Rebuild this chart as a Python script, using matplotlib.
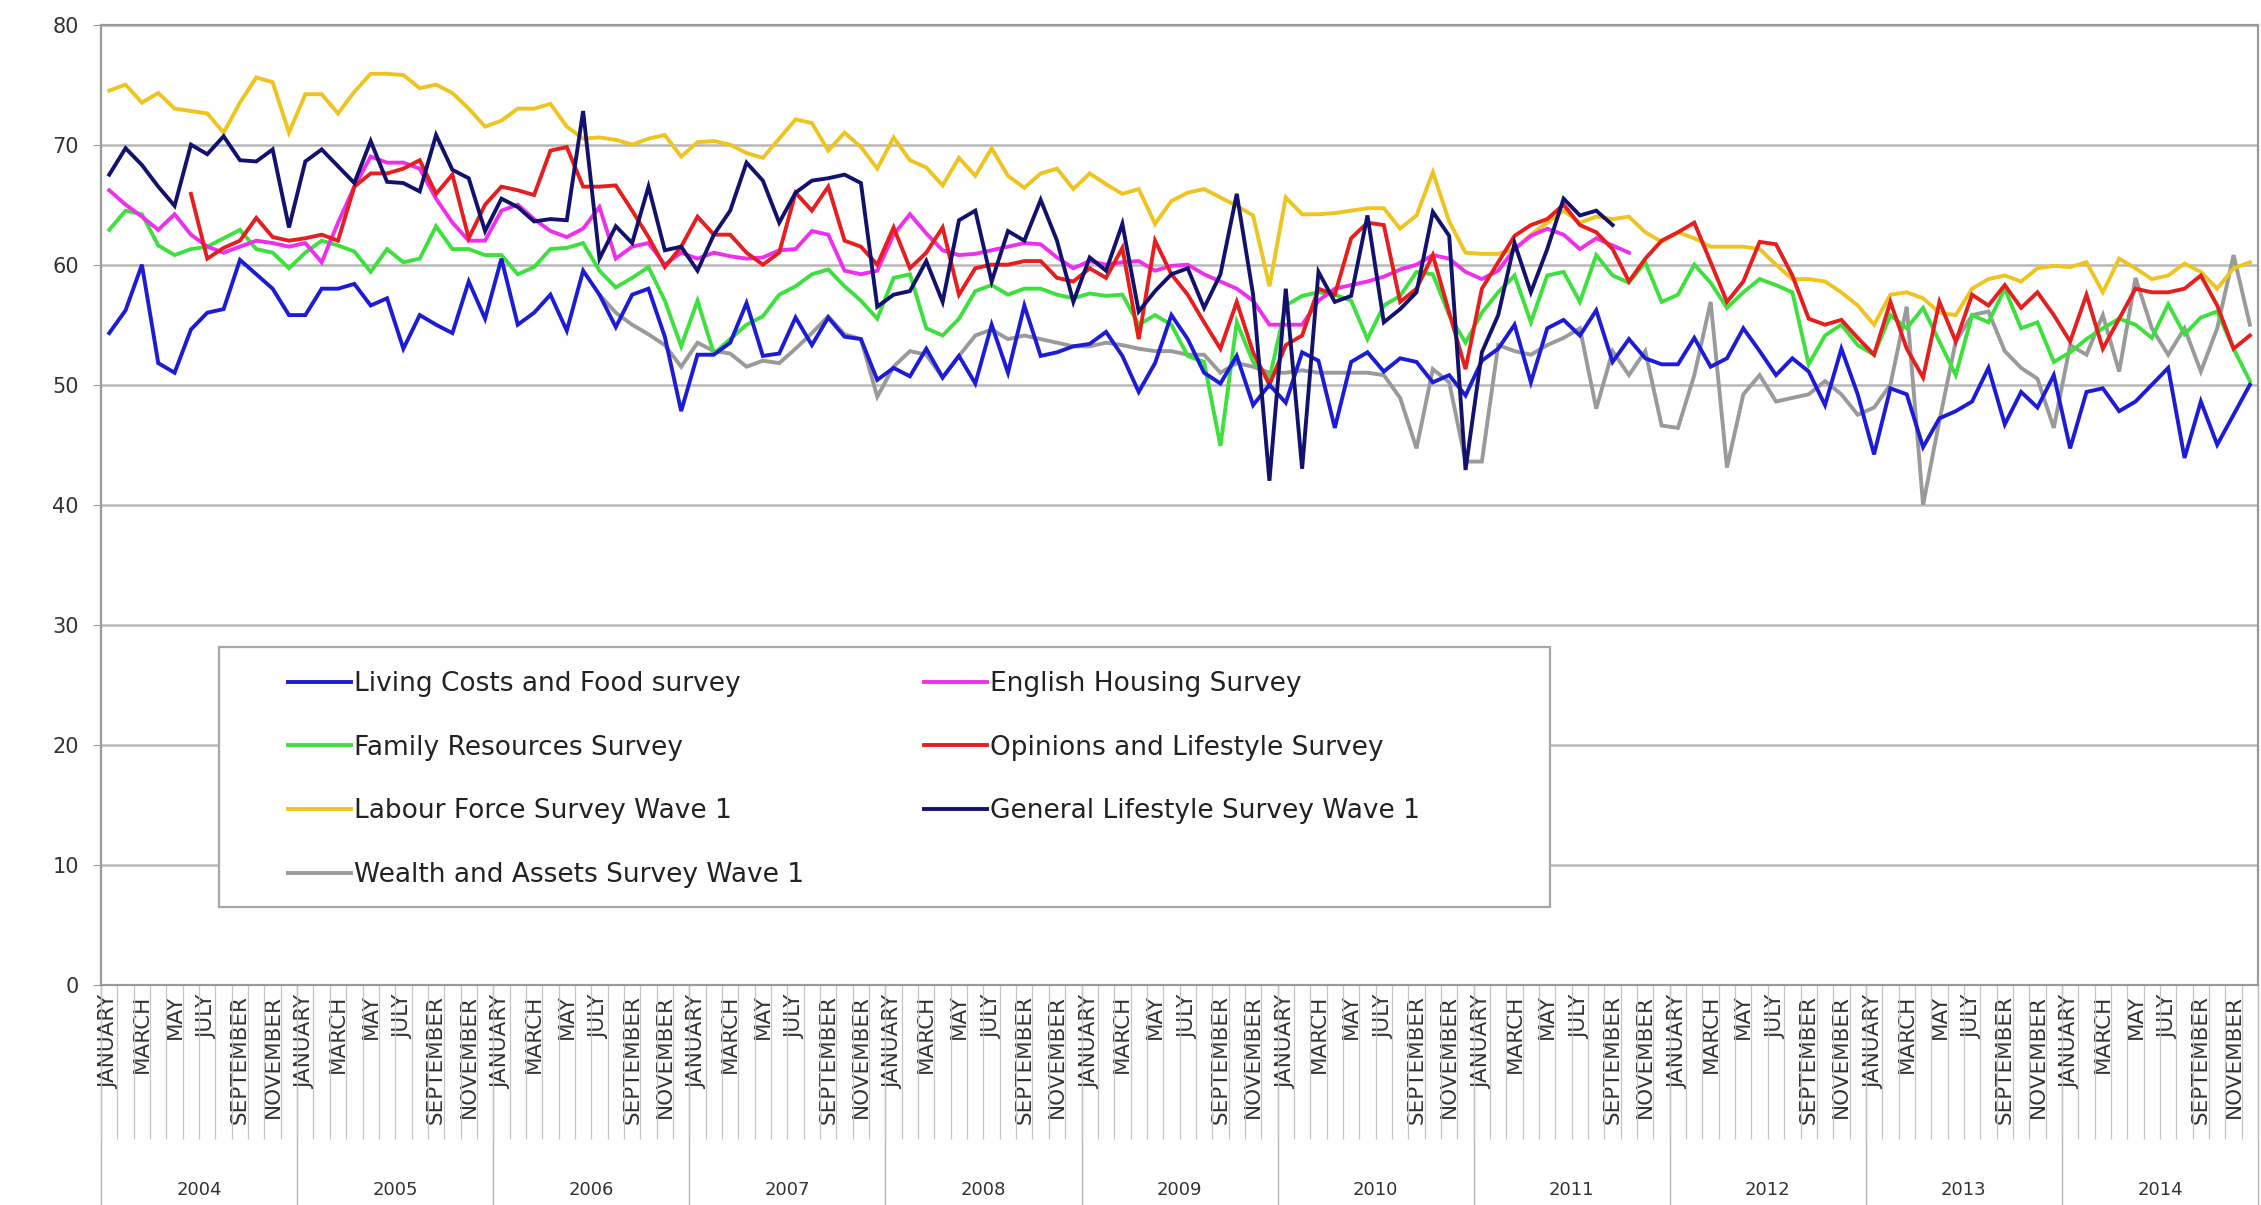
import numpy as np
import matplotlib.pyplot as plt
from matplotlib.patches import Rectangle

nan = np.nan

# category axis: one point per month, Jan 2004 - Dec 2014
month_names = ['JANUARY', 'FEBRUARY', 'MARCH', 'APRIL', 'MAY', 'JUNE', 'JULY',
               'AUGUST', 'SEPTEMBER', 'OCTOBER', 'NOVEMBER', 'DECEMBER']
years = [str(y) for y in range(2004, 2015)]

living_costs = [
    54.3, 56.2, 60.0, 51.8, 51.0, 54.6, 56.0, 56.3, 60.4, 59.2, 58.0, 55.8,
    55.8, 58.0, 58.0, 58.4, 56.6, 57.2, 53.0, 55.8, 55.0, 54.3, 58.6, 55.5,
    60.5, 55.0, 56.0, 57.5, 54.5, 59.5, 57.5, 54.8, 57.5, 58.0, 54.0, 47.8,
    52.5, 52.5, 53.5, 56.8, 52.4, 52.6, 55.6, 53.3, 55.6, 54.0, 53.8, 50.4,
    51.4, 50.7, 53.0, 50.6, 52.4, 50.1, 55.0, 51.0, 56.6, 52.4, 52.7, 53.2,
    53.4, 54.4, 52.4, 49.4, 51.8, 55.8, 53.8, 51.0, 50.1, 52.4, 48.3, 50.0,
    48.5, 52.7, 52.0, 46.4, 51.9, 52.7, 51.1, 52.2, 51.9, 50.2, 50.8, 49.1,
    52.0, 53.0, 55.0, 50.2, 54.7, 55.4, 54.1, 56.2, 51.9, 53.8, 52.2, 51.7,
    51.7, 53.9, 51.5, 52.2, 54.7, 52.8, 50.8, 52.2, 51.1, 48.3, 53.0, 49.2,
    44.2, 49.7, 49.2, 44.8, 47.2, 47.8, 48.6, 51.4, 46.7, 49.4, 48.1, 50.8,
    44.7, 49.4, 49.7, 47.8, 48.6, 50.0, 51.4, 43.9, 48.6, 45.0, 47.5, 50.0,
]

english_housing = [
    66.2, 65.0, 64.0, 62.9, 64.2, 62.5, 61.5, 61.0, 61.5, 62.0, 61.8, 61.5,
    61.8, 60.2, 63.5, 66.5, 69.0, 68.5, 68.5, 68.0, 65.5, 63.5, 62.0, 62.0,
    64.5, 65.0, 63.8, 62.8, 62.3, 63.0, 64.8, 60.5, 61.5, 61.8, 60.0, 61.0,
    60.5, 61.0, 60.7, 60.5, 60.6, 61.2, 61.3, 62.8, 62.5, 59.5, 59.2, 59.5,
    62.5, 64.2, 62.6, 61.2, 60.8, 60.9, 61.2, 61.5, 61.8, 61.7, 60.6, 59.7,
    60.3, 60.0, 60.2, 60.3, 59.5, 59.9, 60.0, 59.2, 58.6, 58.0, 57.0, 55.0,
    55.0, 55.0, 57.0, 58.0, 58.3, 58.6, 59.0, 59.6, 60.0, 60.8, 60.5, 59.4,
    58.8, 59.5, 61.3, 62.4, 63.0, 62.5, 61.3, 62.2, 61.6, 61.0, nan, nan,
] + [nan] * 36

family_resources = [
    62.9, 64.5, 64.2, 61.6, 60.8, 61.3, 61.5, 62.2, 62.9, 61.3, 61.0, 59.7,
    61.0, 62.0, 61.6, 61.1, 59.4, 61.3, 60.2, 60.5, 63.2, 61.3, 61.3, 60.8,
    60.8, 59.2, 59.8, 61.3, 61.4, 61.8, 59.5, 58.1, 58.9, 59.8, 57.0, 53.2,
    57.0, 52.6, 53.8, 55.0, 55.7, 57.5, 58.2, 59.2, 59.6, 58.2, 57.0, 55.5,
    58.9, 59.2, 54.7, 54.1, 55.5, 57.8, 58.3, 57.5, 58.0, 58.0, 57.5, 57.2,
    57.6, 57.4, 57.5, 55.0, 55.8, 55.0, 52.4, 51.9, 44.9, 55.2, 51.9, 50.5,
    56.6, 57.4, 57.7, 57.5, 57.0, 53.8, 56.6, 57.4, 59.4, 59.2, 55.8, 53.5,
    56.0, 57.7, 59.1, 55.2, 59.1, 59.4, 56.9, 60.8, 59.1, 58.5, 60.2, 56.9,
    57.5, 60.0, 58.5, 56.4, 57.7, 58.8, 58.3, 57.7, 51.7, 54.1, 55.0, 53.3,
    52.5, 55.8, 54.7, 56.4, 53.6, 50.8, 55.8, 55.2, 58.0, 54.7, 55.2, 51.9,
    52.7, 53.8, 54.7, 55.5, 55.0, 53.9, 56.7, 54.2, 55.6, 56.1, 53.0, 50.3,
]

opinions_lifestyle = [
    nan, nan, nan, nan, nan, 65.9, 60.5, 61.4, 62.0, 63.9, 62.3, 62.0,
    62.2, 62.5, 62.0, 66.5, 67.6, 67.6, 68.0, 68.7, 65.9, 67.5, 62.2, 65.0,
    66.5, 66.2, 65.8, 69.5, 69.8, 66.5, 66.5, 66.6, 64.5, 62.3, 59.8, 61.5,
    64.0, 62.5, 62.5, 61.0, 60.0, 61.0, 66.0, 64.5, 66.5, 62.0, 61.5, 60.0,
    63.1, 59.7, 61.0, 63.1, 57.5, 59.7, 60.0, 60.0, 60.3, 60.3, 58.9, 58.6,
    59.7, 58.9, 61.4, 53.8, 62.0, 59.2, 57.5, 55.2, 53.0, 56.9, 52.7, 50.0,
    53.3, 54.1, 58.0, 57.5, 62.2, 63.5, 63.3, 56.9, 58.0, 60.8, 56.0, 51.3,
    58.0, 60.2, 62.4, 63.3, 63.8, 65.0, 63.3, 62.7, 61.3, 58.6, 60.5, 62.0,
    62.7, 63.5, 60.2, 56.9, 58.6, 61.9, 61.7, 59.1, 55.5, 55.0, 55.4, 53.9,
    52.5, 56.9, 53.0, 50.6, 56.9, 53.6, 57.5, 56.6, 58.3, 56.4, 57.7, 55.8,
    53.6, 57.5, 53.0, 55.5, 58.0, 57.7, 57.7, 58.0, 59.1, 56.6, 53.0, 54.1,
]

labour_force = [
    74.5, 75.0, 73.5, 74.3, 73.0, 72.8, 72.6, 71.0, 73.5, 75.6, 75.2, 71.0,
    74.2, 74.2, 72.6, 74.4, 75.9, 75.9, 75.8, 74.7, 75.0, 74.3, 73.0, 71.5,
    72.0, 73.0, 73.0, 73.4, 71.5, 70.5, 70.6, 70.4, 70.0, 70.5, 70.8, 69.0,
    70.2, 70.3, 70.0, 69.3, 68.9, 70.5, 72.1, 71.8, 69.5, 71.0, 69.8, 68.0,
    70.6, 68.7, 68.1, 66.6, 68.9, 67.4, 69.7, 67.4, 66.4, 67.6, 68.0, 66.3,
    67.6, 66.7, 65.9, 66.3, 63.4, 65.3, 66.0, 66.3, 65.6, 64.9, 64.1, 58.2,
    65.6, 64.2, 64.2, 64.3, 64.5, 64.7, 64.7, 63.0, 64.1, 67.7, 63.6, 61.0,
    60.9, 60.9, 61.3, 62.5, 63.5, 64.5, 63.5, 64.0, 63.8, 64.0, 62.7, 61.9,
    62.7, 62.2, 61.5, 61.5, 61.5, 61.3, 60.0, 58.8, 58.8, 58.6, 57.7, 56.6,
    55.0, 57.5, 57.7, 57.2, 56.0, 55.8, 58.0, 58.8, 59.1, 58.6, 59.7, 59.9,
    59.8, 60.2, 57.7, 60.5, 59.7, 58.8, 59.1, 60.1, 59.4, 58.0, 59.7, 60.2,
]

general_lifestyle = [
    67.5, 69.7, 68.3, 66.5, 64.9, 70.0, 69.2, 70.7, 68.7, 68.6, 69.6, 63.1,
    68.6, 69.6, 68.2, 66.8, 70.3, 66.9, 66.8, 66.1, 70.8, 67.9, 67.2, 62.8,
    65.5, 64.8, 63.6, 63.8, 63.7, 72.8, 60.5, 63.2, 61.8, 66.5, 61.2, 61.5,
    59.5, 62.5, 64.5, 68.5, 67.0, 63.5, 66.0, 67.0, 67.2, 67.5, 66.8, 56.5,
    57.5, 57.8, 60.3, 56.9, 63.7, 64.5, 58.6, 62.8, 62.0, 65.4, 62.0, 56.9,
    60.6, 59.5, 63.4, 56.1, 57.8, 59.2, 59.7, 56.4, 59.2, 65.9, 57.5, 42.0,
    58.0, 43.0, 59.4, 56.9, 57.4, 64.1, 55.2, 56.3, 57.7, 64.4, 62.4, 42.9,
    52.7, 55.8, 61.8, 57.7, 61.3, 65.5, 64.1, 64.5, 63.3, nan, nan, nan,
] + [nan] * 36

wealth_assets = [nan] * 24 + [
    nan, nan, nan, nan, nan, nan, 57.5, 56.0, 55.0, 54.2, 53.3, 51.5,
    53.5, 52.8, 52.6, 51.5, 52.0, 51.8, 53.0, 54.3, 55.7, 54.2, 53.8, 49.0,
    51.5, 52.8, 52.5, 50.6, 52.4, 54.1, 54.6, 53.8, 54.1, 53.8, 53.5, 53.2,
    53.2, 53.5, 53.3, 53.0, 52.8, 52.8, 52.5, 52.5, 51.0, 51.8, 51.5, 51.0,
    51.0, 51.2, 51.0, 51.0, 51.0, 51.0, 50.8, 48.9, 44.7, 51.3, 50.2, 43.6,
    43.6, 53.3, 52.8, 52.5, 53.3, 53.9, 54.7, 48.0, 52.8, 50.8, 52.8, 46.6,
    46.4, 50.8, 56.9, 43.1, 49.2, 50.8, 48.6, 48.9, 49.2, 50.3, 49.2, 47.5,
    48.1, 50.0, 56.5, 40.0, 47.0, 53.6, 55.8, 56.1, 52.8, 51.4, 50.5, 46.4,
    53.3, 52.5, 55.8, 51.1, 58.9, 54.7, 52.5, 54.7, 51.1, 54.7, 60.8, 55.0,
]

series_names = ['Living Costs and Food survey', 'English Housing Survey',
                'Family Resources Survey', 'Opinions and Lifestyle Survey',
                'Labour Force Survey Wave 1', 'General Lifestyle Survey Wave 1',
                'Wealth and Assets Survey Wave 1']
series_values = [living_costs, english_housing, family_resources,
                 opinions_lifestyle, labour_force, general_lifestyle,
                 wealth_assets]
series_colors = ['#1c1cd8', '#ee30ee', '#3ee03e', '#e61e1e',
                 '#f0c420', '#12126e', '#9a9a9a']

n_months = len(living_costs)
x = np.arange(n_months)

fig = plt.figure(figsize=(22.61, 12.05), dpi=100)
ax = fig.add_axes([0.0447, 0.1826, 0.954, 0.797])

# gray first so it sits underneath the others
draw_order = [6, 4, 2, 1, 3, 0, 5]
lines = {}
for k in draw_order:
    (ln,) = ax.plot(x, series_values[k], color=series_colors[k], lw=2.8,
                    label=series_names[k], solid_joinstyle='miter')
    lines[k] = ln

ax.set_xlim(-0.5, n_months - 0.5)
ax.set_ylim(0, 80)
ax.set_yticks(range(0, 81, 10))
ax.yaxis.grid(True, color='#b8b8b8', lw=1.8)
ax.set_axisbelow(True)
for sp in ax.spines.values():
    sp.set_color('#9a9a9a')
    sp.set_linewidth(1.6)
ax.tick_params(axis='y', length=6, color='#9a9a9a', labelsize=15,
               labelcolor='#333333', pad=10)

# month labels on every other category, thin separators between months
ax.set_xticks(x[::2])
ax.set_xticklabels([month_names[i % 12] for i in x[::2]], rotation=90,
                   fontsize=15.5, color='#333333')
ax.set_xticks(np.arange(-0.5, n_months, 1), minor=True)
ax.tick_params(axis='x', which='major', length=0, pad=7)
ax.tick_params(axis='x', which='minor', length=111, width=0.9,
               color='#c4c4c4')

# second level: year separators and year names
sec = ax.secondary_xaxis('bottom')
sec.spines['bottom'].set_visible(False)
sec.set_xticks(np.arange(-0.5, n_months, 12))
sec.set_xticklabels([])
sec.set_xticks(np.arange(5.5, n_months, 12), labels=years, minor=True)
sec.tick_params(axis='x', which='major', length=165, width=1.0,
                color='#b4b4b4')
sec.tick_params(axis='x', which='minor', length=0, pad=141,
                labelsize=13, labelcolor='#333333')

# legend box drawn separately, entries filled row by row (2 columns)
box = Rectangle((0.0547, 0.0812), 0.6171, 0.2707, transform=ax.transAxes,
                facecolor='white', edgecolor='#a8a8a8', lw=1.6, zorder=4)
ax.add_patch(box)
order = [0, 2, 4, 6, 1, 3, 5]
leg = ax.legend([lines[k] for k in order], [series_names[k] for k in order],
                ncol=2, loc='upper left', bbox_to_anchor=(0.0867, 0.327),
                fontsize=19, frameon=False, borderaxespad=0, borderpad=0,
                labelspacing=1.43, handlelength=2.4, handletextpad=0.1,
                columnspacing=4.55)
leg.set_zorder(5)
for t in leg.get_texts():
    t.set_color('#222222')

fig.savefig('out.png', dpi=100, facecolor='white')
